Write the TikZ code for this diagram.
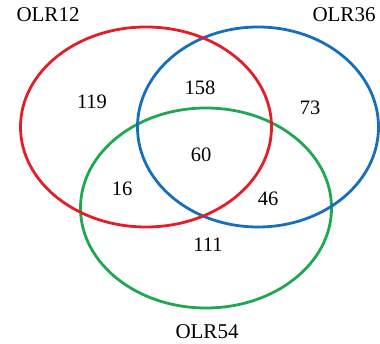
\documentclass[tikz,border=0pt]{standalone}
\usepackage{fontspec}
\setmainfont{Liberation Serif}
\usetikzlibrary{shapes.geometric}
\definecolor{setred}{RGB}{228,30,38}
\definecolor{setblue}{RGB}{22,110,190}
\definecolor{setgreen}{RGB}{30,168,80}
\begin{document}
\begin{tikzpicture}[x=1pt,y=-1pt,
  setring/.style={ellipse, draw, line width=2.8pt, inner sep=0pt,
    minimum width=251pt, minimum height=200pt},
  count/.style={font=\fontsize{20.5}{22}\selectfont, inner sep=0pt},
  setname/.style={font=\fontsize{21}{22}\selectfont, inner sep=0pt}]
  \useasboundingbox (0,0) rectangle (380,344);
  \clip (0,0) rectangle (380,344);
  % the three sets
  \node[setring, setgreen] (s54) at (206,208) {};
  \node[setring, setblue, minimum width=241pt] (s36) at (258,127) {};
  \node[setring, setred]   (s12) at (146,127) {};
  % set names
  \node[setname] (n12) at (48,15) {OLR12};
  \node[setname] (n36) at (344,15) {OLR36};
  \node[setname] (n54) at (207,332) {OLR54};
  % region counts
  \node[count] (c119) at (92,102) {119};
  \node[count] (c158) at (200,88) {158};
  \node[count] (c73)  at (310,108) {73};
  \node[count] (c60)  at (201,155) {60};
  \node[count] (c16)  at (122,189) {16};
  \node[count] (c46)  at (268,199) {46};
  \node[count] (c111) at (208,245) {111};
\end{tikzpicture}
\end{document}
